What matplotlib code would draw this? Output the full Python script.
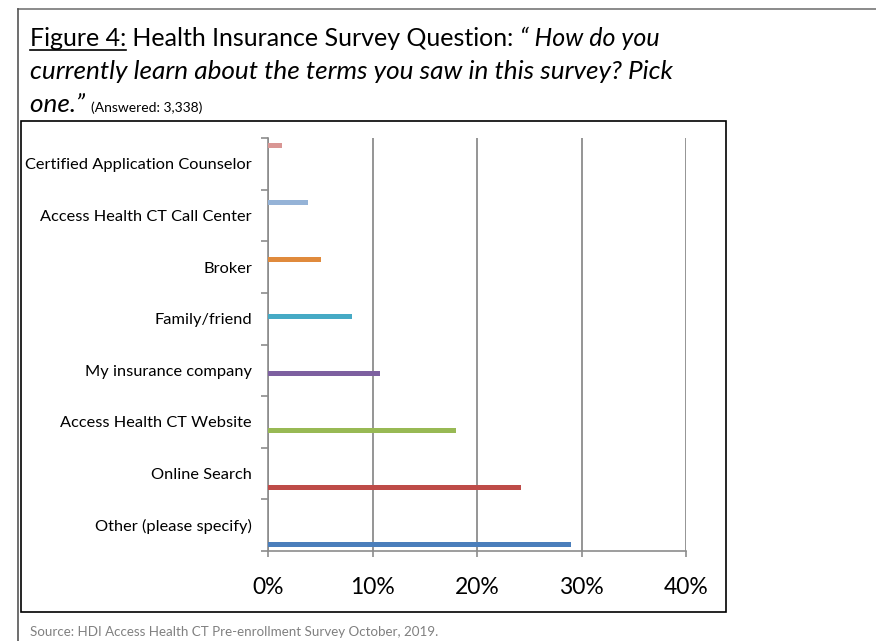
import matplotlib
matplotlib.use("Agg")
import matplotlib.pyplot as plt
import numpy as np
from matplotlib.lines import Line2D
from matplotlib.patches import Rectangle

# data (bottom to top)
categories = ["Other (please specify)", "Online Search", "Access Health CT Website",
              "My insurance company", "Family/friend", "Broker",
              "Access Health CT Call Center", "Certified Application Counselor"]
values = [0.290, 0.242, 0.180, 0.107, 0.080, 0.051, 0.038, 0.013]
colors = ["#4a7ebb", "#be4b48", "#98b954", "#7d60a0", "#46aac5", "#e08a3c",
          "#95b3d7", "#d99694"]
xticks = [0, 0.1, 0.2, 0.3, 0.4]
xlabels = ["0%", "10%", "20%", "30%", "40%"]

FONT = "Lato"
W, H = 876, 641
fig = plt.figure(figsize=(W / 100, H / 100), dpi=100)

# outer frame + inner chart box
fig.add_artist(Line2D([18 / W, 1], [1 - 9 / H, 1 - 9 / H], color="#777777", lw=1.2))
fig.add_artist(Line2D([18 / W, 18 / W], [0, 1 - 9 / H], color="#555555", lw=1.2))
fig.add_artist(Rectangle((21 / W, 1 - 612 / H), (726 - 21) / W, (612 - 121) / H,
                         fill=False, ec="black", lw=1.2))

ax = fig.add_axes([268 / W, 1 - 551 / H, (686 - 268) / W, (551 - 138) / H])
n = len(categories)
bar_y = 0.12 + 1.105 * np.arange(n)
ax.barh(bar_y, values, height=0.09, color=colors, zorder=3)

ax.set_xlim(0, 0.4)
ax.set_ylim(0, n)
ax.set_xticks(xticks)
ax.set_xticklabels(xlabels, fontsize=16.5, family=FONT)
ax.set_yticks(np.arange(n + 1))
ax.set_yticklabels([])
ax.set_yticks(np.arange(n) + 0.5, minor=True)
ax.set_yticklabels(categories, minor=True, fontsize=11.8, family=FONT)
ax.tick_params(axis="y", which="major", length=5, color="#8c8c8c", width=1.2)
ax.tick_params(axis="y", which="minor", length=0, pad=11.5)
ax.tick_params(axis="x", length=4, color="#8c8c8c", width=1.2, pad=15)
ax.xaxis.grid(True, color="#8c8c8c", lw=1.3, zorder=0)
ax.set_axisbelow(True)
for s in ["top", "right"]:
    ax.spines[s].set_visible(False)
for s in ["left", "bottom"]:
    ax.spines[s].set_color("#8c8c8c")
    ax.spines[s].set_linewidth(1.2)

# title built from pieces with mixed styles
renderer = fig.canvas.get_renderer()


def put_line(x0, y, pieces):
    x = x0
    out = []
    for txt, kw in pieces:
        t = fig.text(x / W, 1 - y / H, txt, va="baseline", ha="left", family=FONT, **kw)
        bb = t.get_window_extent(renderer)
        out.append((t, x, bb.width))
        x += bb.width
    return out


tsize = 18
line1 = put_line(30, 46, [("Figure 4:", dict(fontsize=tsize)),
                          (" Health Insurance Survey Question: ", dict(fontsize=tsize)),
                          ("\u201c How do you", dict(fontsize=tsize, style="italic"))])
_, ux, uw = line1[0]
fig.add_artist(Line2D([ux / W, (ux + uw) / W], [1 - 50 / H, 1 - 50 / H], color="black", lw=1.2))
put_line(30, 79, [("currently learn about the terms you saw in this survey? Pick",
                   dict(fontsize=18.8, style="italic"))])
put_line(30, 112, [("one.\u201d ", dict(fontsize=18.8, style="italic")),
                   ("(Answered: 3,338)", dict(fontsize=10))])

fig.text(30 / W, 1 - 636 / H, "Source: HDI Access Health CT Pre-enrollment Survey October, 2019.",
         fontsize=9.6, color="#808080", family=FONT, va="baseline")

fig.savefig("out.png", dpi=100)
